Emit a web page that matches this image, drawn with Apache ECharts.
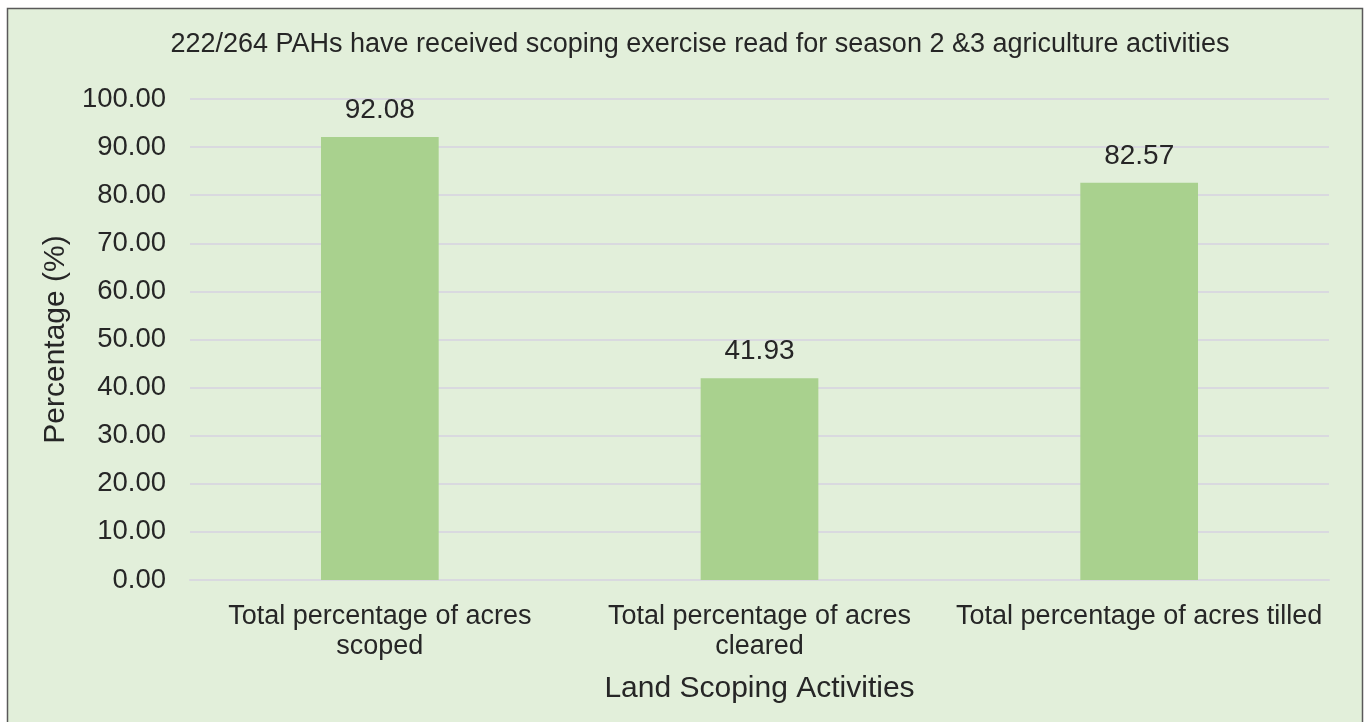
<!DOCTYPE html>
<html lang="en">
<head>
    <meta charset="UTF-8">
    <title>Land Scoping Activities</title>
    <script src="https://cdn.jsdelivr.net/npm/echarts@6/dist/echarts.min.js"></script>
    <style>
        html, body { margin: 0; padding: 0; background: #fff; }
        #chart { width: 1365px; height: 722px; }
    </style>
</head>
<body>
<div id="chart"></div>
<script>
    var titleText = '222/264 PAHs have received scoping exercise read for season 2 &3 agriculture activities';
    var categories = [
        'Total percentage of acres\nscoped',
        'Total percentage of acres\ncleared',
        'Total percentage of acres tilled'
    ];
    var values = [92.08, 41.93, 82.57];
    var font = 'Liberation Sans, Arial, sans-serif';

    var chart = echarts.init(document.getElementById('chart'));
    chart.setOption({
        backgroundColor: '#ffffff',
        animation: false,
        graphic: [{
            type: 'rect',
            z: -10,
            shape: { x: 7.5, y: 8.5, width: 1355, height: 720 },
            style: { fill: '#e2efda', stroke: '#595959', lineWidth: 1.5 }
        }],
        title: {
            text: titleText,
            left: 695,
            textAlign: 'center',
            top: 26,
            textStyle: { fontFamily: font, fontSize: 27, fontWeight: 'normal', color: '#262626' }
        },
        grid: { left: 190, right: 36, top: 99, bottom: 142 },
        xAxis: {
            type: 'category',
            data: categories,
            name: 'Land Scoping Activities',
            nameLocation: 'middle',
            nameGap: 94,
            nameTextStyle: { fontFamily: font, fontSize: 30, color: '#262626' },
            axisLine: { lineStyle: { color: '#d9d9df', width: 2 } },
            axisTick: { show: false },
            axisLabel: {
                margin: 22, interval: 0,
                fontFamily: font, fontSize: 27, lineHeight: 30, color: '#262626'
            }
        },
        yAxis: {
            type: 'value',
            min: 0, max: 100, interval: 10,
            name: 'Percentage (%)',
            nameLocation: 'middle',
            nameRotate: 90,
            nameGap: 112,
            nameTextStyle: { fontFamily: font, fontSize: 30, color: '#262626' },
            axisLabel: {
                margin: 24,
                fontFamily: font, fontSize: 27.5, color: '#262626',
                formatter: function (v) { return v.toFixed(2); }
            },
            splitLine: { lineStyle: { color: '#d9d9df', width: 2 } }
        },
        series: [{
            type: 'bar',
            data: values,
            barWidth: '31%',
            itemStyle: { color: '#a9d18e' },
            label: {
                show: true, position: 'top', distance: 13,
                fontFamily: font, fontSize: 28, color: '#262626',
                formatter: function (p) { return p.value.toFixed(2); }
            }
        }]
    });
</script>
</body>
</html>
